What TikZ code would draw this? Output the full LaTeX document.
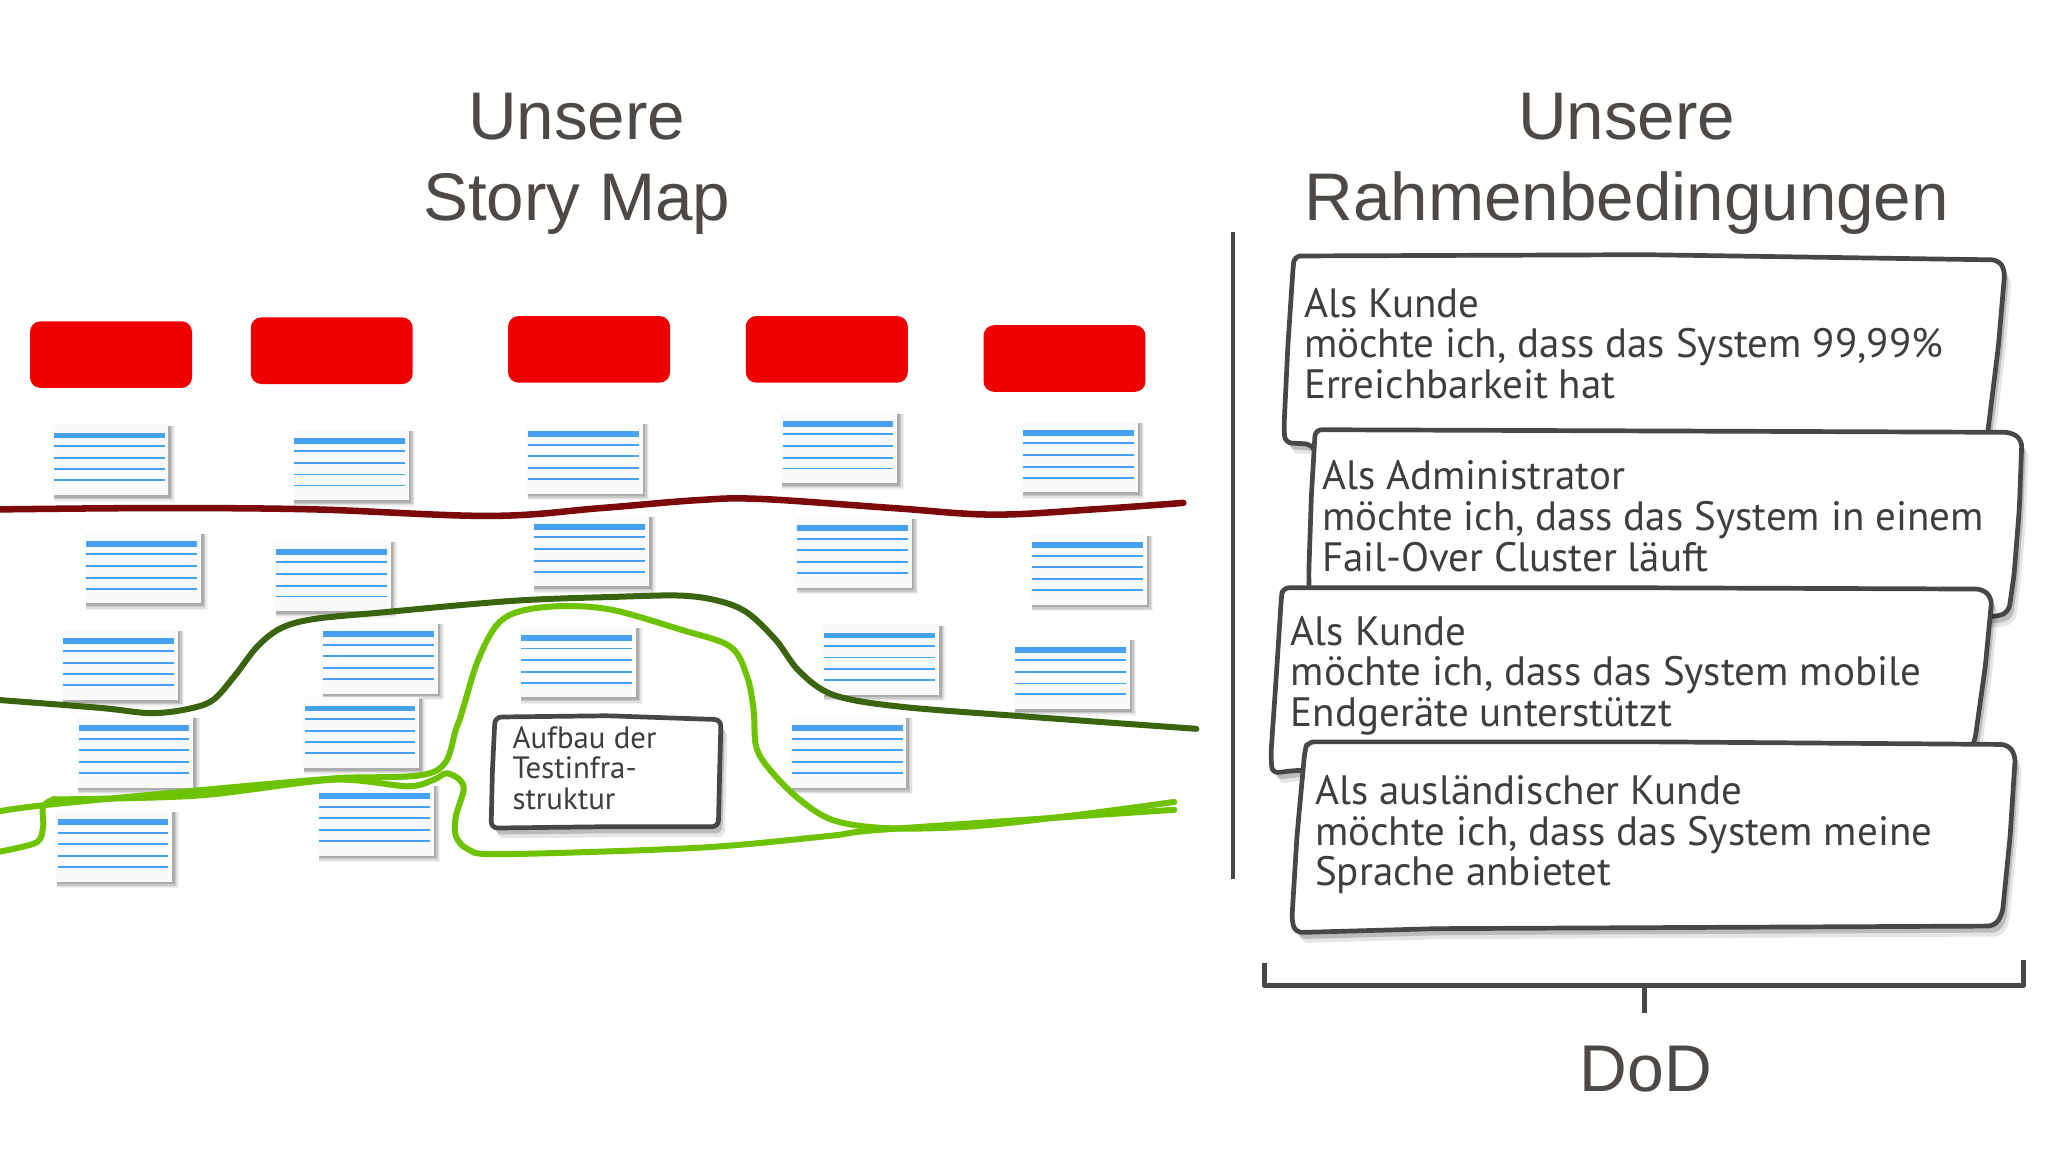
\documentclass[tikz,border=0pt]{standalone}
\usepackage{fontspec}
\setmainfont{Liberation Sans}
\newfontfamily\handfont{PT Sans}
\usetikzlibrary{shadows}
\definecolor{txt}{HTML}{4D4947}
\definecolor{handtxt}{HTML}{3E3E3E}
\definecolor{boxline}{HTML}{474747}
\definecolor{cardblue}{HTML}{45A2F2}
\definecolor{cardfill}{HTML}{FAFAFC}
\definecolor{redbox}{HTML}{EE0000}
\definecolor{darkred}{HTML}{7C0A0A}
\definecolor{darkgreen}{HTML}{3A6410}
\definecolor{lightgreen}{HTML}{6DC300}
\tikzset{
  titlefont/.style={font=\fontsize{25.8}{31}\selectfont, text=txt, inner sep=0pt, anchor=base},
  handline/.style={font=\handfont\fontsize{15.7}{18}\selectfont, text=handtxt, inner sep=0pt, anchor=base west},
  smallhand/.style={font=\handfont\fontsize{11.8}{13}\selectfont, text=handtxt, inner sep=0pt, anchor=base west},
  redcard/.style={fill=redbox, rounded corners=4pt},
  roughbox/.style={draw=boxline, line width=1.8pt, fill=white, line join=round, rounded corners=2.5pt,
    drop shadow={shadow xshift=1.5pt, shadow yshift=-2.5pt, opacity=0.18, fill=black},
    drop shadow={shadow xshift=2.5pt, shadow yshift=-4pt, opacity=0.10, fill=black}},
  mapline/.style={line width=2.3pt, line cap=round, line join=round},
  bracketline/.style={draw=boxline, line width=2pt, line join=round},
  divider/.style={draw=boxline, line width=1.6pt},
  storycard/.pic={
    \fill[black,opacity=0.05] (1,1) rectangle (94,59);
    \fill[black,opacity=0.07] (1,1) rectangle (93,58);
    \fill[black,opacity=0.10] (1,1) rectangle (92,57);
    \fill[black,opacity=0.14] (1,1) rectangle (91,56);
    \fill[cardfill] (0,0) rectangle (89,54);
    \fill[cardblue] (1.2,6.3) rectangle (86,10.7);
    \foreach \yy in {16.5,25.4,34.3,42.7}{\fill[cardblue] (1.2,\yy-0.75) rectangle (86,\yy+0.75);}
  }
}
\begin{document}
\begin{tikzpicture}[x=0.5pt,y=-0.5pt]
\useasboundingbox (0,0) rectangle (1568,882);
\fill[white] (0,0) rectangle (1568,882);

% titles
\node[titlefont] (tl1) at (441.5,106.5) {Unsere};
\node[titlefont] (tl2) at (441.5,169) {Story Map};
\node[titlefont] (tr1) at (1245.5,106.5) {Unsere};
\node[titlefont] (tr2) at (1245.5,169) {Rahmenbedingungen};

% divider
\coordinate (dv1) at (944,178);
\coordinate (dv2) at (944,673);
\draw[divider] (dv1) -- (dv2);

% red activity boxes
\fill[redcard] (23,246) rectangle ++(124,51);
\fill[redcard] (192,243) rectangle ++(124,51);
\fill[redcard] (389,242) rectangle ++(124,51);
\fill[redcard] (571,242) rectangle ++(124,51);
\fill[redcard] (753,249) rectangle ++(124,51);

% story cards
\foreach \cx/\cy in {40/325,224/329,403/324,598/316,782/323,
                     65/408,210/414,408/395,609/396,789/409,
                     47/482,246/477,398/480,630/478,776/489,
                     59/549,232/534,605/549,
                     43/621,243/601}
  {\pic at (\cx,\cy) {storycard};}

% release lines
\draw[mapline, darkred, line width=2.5pt] plot[smooth, tension=0.6] coordinates
  {(0,390) (120,389) (240,390) (375,395) (460,389) (533,383) (582,382) (684,389) (760,394) (837,390) (906,385)};
\draw[mapline, darkgreen] plot[smooth, tension=0.55] coordinates
  {(0,536) (77,542) (115,546) (143,543) (163,536) (180,517) (197,495) (215,481) (240,474) (291,469) (393,460) (470,457) (521,456) (550,460) (572,469) (594,490) (612,514) (638,532) (689,541) (791,549) (916,558)};
\draw[mapline, lightgreen] plot[smooth, tension=0.55] coordinates
  {(0,621) (38,616) (153,605) (255,596) (332,591) (350,556) (365,508) (380,479) (398,468) (431,464) (469,467) (521,482) (559,495) (572,518) (577,544) (579,572) (590,590) (612,612) (638,628) (678,634) (740,633) (816,625) (899,614)};
\draw[mapline, lightgreen] plot[smooth, tension=0.5] coordinates
  {(0,652) (28,645) (33,633) (33,618) (41,612) (51,612) (153,609) (255,597) (312,602) (332,597) (342,592) (352,597) (355,605) (349,625) (349,640) (358,650) (383,654) (536,649) (635,640) (678,635) (899,620)};

% note box
\path[roughbox] (379,549) -- (465,548) -- (552,551) -- (551,590) -- (550,633) -- (460,633) -- (376,634) -- (377,590) -- cycle;
\node[smallhand] (n1) at (392,573) {Aufbau der};
\node[smallhand] (n2) at (392,596) {Testinfra-};
\node[smallhand] (n3) at (392,619.5) {struktur};

% constraint cards
\path[roughbox] (991,196) -- (1260,195) -- (1530,199) -- (1535,207) -- (1530,265) -- (1522,330) -- (1520,352) -- (1010,352) -- (1004,340) -- (984,339) -- (983,328) -- (986,265) -- (990,205) -- cycle;
\node[handline] (a1) at (998,243) {Als Kunde};
\node[handline] (a2) at (998,273.5) {möchte ich, dass das System 99,99\%};
\node[handline] (a3) at (998,305) {Erreichbarkeit hat};

\path[roughbox] (1007,329) -- (1280,330) -- (1540,331) -- (1548,337) -- (1546,390) -- (1542,440) -- (1538,468) -- (1530,472) -- (1003,470) -- (1002,440) -- (1004,380) -- cycle;
\node[handline] (b1) at (1012,375) {Als Administrator};
\node[handline] (b2) at (1012,406) {möchte ich, dass das System in einem};
\node[handline] (b3) at (1012,437.5) {Fail-Over Cluster läuft};

\path[roughbox] (982,450) -- (1250,450) -- (1518,451) -- (1525,458) -- (1520,510) -- (1512,567) -- (1508,575) -- (990,590) -- (974,592) -- (973,578) -- (977,520) -- (981,458) -- cycle;
\node[handline] (c1) at (988,494) {Als Kunde};
\node[handline] (c2) at (988,525) {möchte ich, dass das System mobile};
\node[handline] (c3) at (988,556) {Endgeräte unterstützt};

\path[roughbox] (1001,568) -- (1270,568) -- (1537,570) -- (1543,578) -- (1539,640) -- (1533,700) -- (1527,709) -- (1100,711) -- (992,714) -- (989,705) -- (993,640) -- (999,575) -- cycle;
\node[handline] (d1) at (1006.5,616) {Als ausländischer Kunde};
\node[handline] (d2) at (1006.5,647) {möchte ich, dass das System meine};
\node[handline] (d3) at (1006.5,678) {Sprache anbietet};

% bracket
\coordinate (bl) at (968,737);
\coordinate (blc) at (968,754.5);
\coordinate (brc) at (1549,754.5);
\coordinate (br) at (1549,735);
\coordinate (bm) at (1259,754.5);
\coordinate (bt) at (1259,775.5);
\draw[bracketline] (bl) -- (blc) -- (brc) -- (br);
\draw[bracketline] (bm) -- (bt);

\node[titlefont, font=\fontsize{25.3}{30}\selectfont] (dod) at (1260,835.6) {DoD};
\end{tikzpicture}
\end{document}
